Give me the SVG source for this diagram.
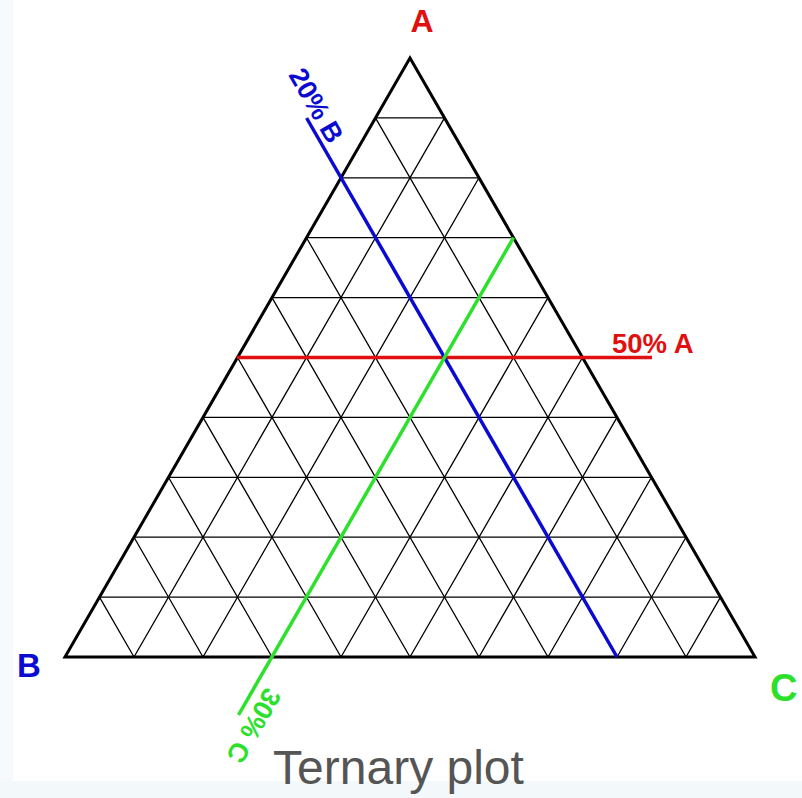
<svg xmlns="http://www.w3.org/2000/svg" width="802" height="798" viewBox="0 0 802 798">
<style>
.grid{stroke:#000;stroke-width:1.3;fill:none}
.outline{stroke:#000;stroke-width:3;fill:none;stroke-linejoin:miter}
.lbl{font-family:"Liberation Sans",Arial,sans-serif;font-weight:bold}
.red{fill:#e01010}.blue{fill:#0a0ad0}.green{fill:#2ce02c}
</style>
<rect width="802" height="798" fill="#ffffff"/>
<rect x="0" y="0" width="13" height="798" fill="#f6fafc"/>
<rect x="0" y="781" width="802" height="17" fill="#f3f8fb"/>
<g id="grid">
<path class="grid" d="M375.5,117.9H444.5M341,177.8H479M306.5,237.7H513.5M272,297.6H548M237.5,357.5H582.5M203,417.4H617M168.5,477.3H651.5M134,537.2H686M99.5,597.1H720.5"/>
<path class="grid" d="M134,657L444.5,117.9M203,657L479,177.8M272,657L513.5,237.7M341,657L548,297.6M410,657L582.5,357.5M479,657L617,417.4M548,657L651.5,477.3M617,657L686,537.2M686,657L720.5,597.1"/>
<path class="grid" d="M134,657L99.5,597.1M203,657L134,537.2M272,657L168.5,477.3M341,657L203,417.4M410,657L237.5,357.5M479,657L272,297.6M548,657L306.5,237.7M617,657L341,177.8M686,657L375.5,117.9"/>
</g>
<g id="triangle">
<path class="outline" d="M410,58L755,657H65Z"/>
</g>
<g id="lines">
<line x1="237" y1="357.5" x2="652" y2="357.5" stroke="#e01010" stroke-width="3.5"/>
<line x1="306.6" y1="118" x2="617" y2="657" stroke="#0a0ad0" stroke-width="3.5"/>
<line x1="238.5" y1="715" x2="513.5" y2="237.7" stroke="#2ce02c" stroke-width="3.5"/>
</g>
<g id="labels">
<text class="lbl red" x="422" y="32" font-size="32" text-anchor="middle">A</text>
<text class="lbl blue" x="17" y="677" font-size="33">B</text>
<text class="lbl green" x="770" y="701" font-size="38">C</text>
<text class="lbl red" x="612" y="353" font-size="27.5">50% A</text>
<text class="lbl blue" font-size="27" transform="translate(288,75) rotate(60)">20% B</text>
<text class="lbl green" font-size="27" transform="translate(266,686) rotate(120)">30% C</text>
<text x="398.5" y="784" font-size="48" text-anchor="middle" fill="#555555" font-family="Liberation Sans,Arial,sans-serif">Ternary plot</text>
</g>
</svg>
